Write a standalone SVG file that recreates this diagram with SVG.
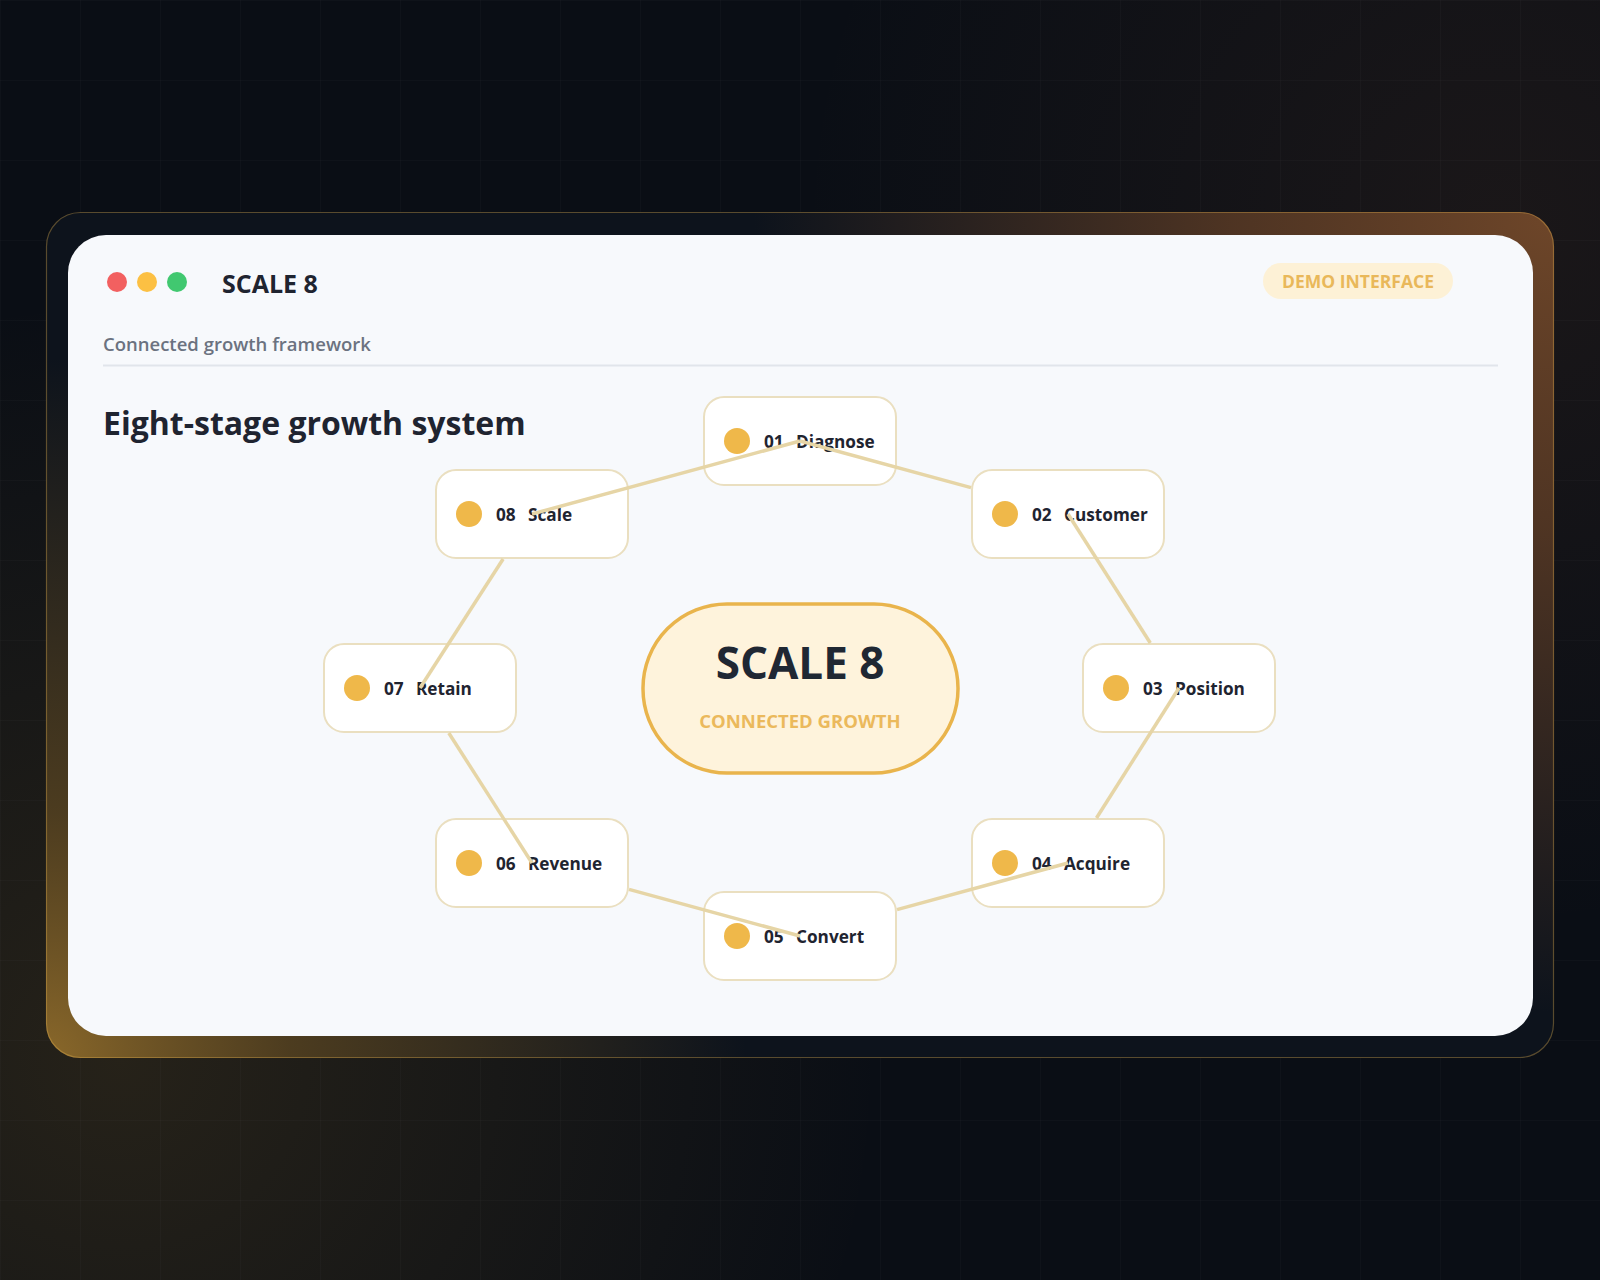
<svg xmlns="http://www.w3.org/2000/svg" width="1600" height="1280" viewBox="0 0 1600 1280">
  <defs>
    <pattern id="grid" width="80" height="80" patternUnits="userSpaceOnUse">
      <path d="M80 0 L0 0 L0 80" fill="none" stroke="#ffffff" stroke-opacity="0.035" stroke-width="1"/>
    </pattern>
    <radialGradient id="bgGlowBL" cx="120" cy="1060" r="760" gradientUnits="userSpaceOnUse">
      <stop offset="0" stop-color="#b88a2e" stop-opacity="0.16"/>
      <stop offset="1" stop-color="#b88a2e" stop-opacity="0"/>
    </radialGradient>
    <radialGradient id="bgGlowTR" cx="1500" cy="230" r="700" gradientUnits="userSpaceOnUse">
      <stop offset="0" stop-color="#b0683a" stop-opacity="0.10"/>
      <stop offset="1" stop-color="#b0683a" stop-opacity="0"/>
    </radialGradient>
    <radialGradient id="frameBL" cx="46" cy="1058" r="700" gradientUnits="userSpaceOnUse">
      <stop offset="0" stop-color="#8a682a"/>
      <stop offset="0.35" stop-color="#5c4620" stop-opacity="0.8"/>
      <stop offset="1" stop-color="#5c4620" stop-opacity="0"/>
    </radialGradient>
    <radialGradient id="frameTR" cx="1554" cy="212" r="800" gradientUnits="userSpaceOnUse">
      <stop offset="0" stop-color="#6e4629"/>
      <stop offset="0.4" stop-color="#5a3a24" stop-opacity="0.85"/>
      <stop offset="1" stop-color="#5a3a24" stop-opacity="0"/>
    </radialGradient>
    <style>
      .ui { font-family: "Open Sans", "Noto Sans", sans-serif; }
      .box { fill: #ffffff; stroke: #eadfc0; stroke-width: 2; }
      .dot { fill: #efb84a; }
      .lbl { font-family: "Open Sans", "Noto Sans", sans-serif; font-size: 17.2px; font-weight: 700; fill: #1f2430; }
      .conn { stroke: #e6d5a6; stroke-width: 3.5; fill: none; stroke-linecap: butt; }
    </style>
  </defs>

  <!-- page background -->
  <rect width="1600" height="1280" fill="#0a0e15"/>
  <rect width="1600" height="1280" fill="url(#bgGlowBL)"/>
  <rect width="1600" height="1280" fill="url(#bgGlowTR)"/>
  <rect width="1600" height="1280" fill="url(#grid)"/>

  <!-- outer frame -->
  <g id="frame">
    <rect x="46" y="212" width="1508" height="846" rx="34" fill="#0d131c"/>
    <rect x="46" y="212" width="1508" height="846" rx="34" fill="url(#frameBL)"/>
    <rect x="46" y="212" width="1508" height="846" rx="34" fill="url(#frameTR)"/>
    <rect x="46.5" y="212.5" width="1507" height="845" rx="34" fill="none" stroke="#e8b44f" stroke-opacity="0.35" stroke-width="1.2"/>
  </g>

  <!-- inner card -->
  <g id="card">
    <rect x="68" y="235" width="1465" height="801" rx="38" fill="#f7f9fc"/>
  </g>

  <!-- header -->
  <g id="header">
    <circle cx="117" cy="282" r="10" fill="#f26060"/>
    <circle cx="147" cy="282" r="10" fill="#fcc043"/>
    <circle cx="177" cy="282" r="10" fill="#41c870"/>
    <text class="ui" x="222" y="293" font-size="25" font-weight="700" fill="#1f2430">SCALE 8</text>
    <g id="demo-badge">
      <rect x="1263" y="263" width="190" height="36" rx="18" fill="#fdf1d6"/>
      <text class="ui" x="1358" y="288" font-size="17.5" font-weight="700" fill="#e9b85a" text-anchor="middle">DEMO INTERFACE</text>
    </g>
    <text class="ui" x="103" y="351" font-size="18.5" font-weight="600" fill="#6b7280">Connected growth framework</text>
    <line x1="103" y1="365.5" x2="1498" y2="365.5" stroke="#e1e5eb" stroke-width="2"/>
    <text class="ui" x="103" y="435" font-size="32" font-weight="700" fill="#1f2430">Eight-stage growth system</text>
  </g>

  <!-- center hub -->
  <g id="hub">
    <rect x="643" y="604" width="315" height="169" rx="84" fill="#fef3dc" stroke="#e9b44c" stroke-width="3.5"/>
    <text class="ui" x="800" y="679" font-size="44" font-weight="700" fill="#1f2733" text-anchor="middle">SCALE 8</text>
    <text class="ui" x="800" y="728" font-size="18.5" font-weight="700" fill="#ebb95c" text-anchor="middle">CONNECTED GROWTH</text>
  </g>

  <!-- nodes -->
  <g id="node-01">
    <rect class="box" x="704" y="397" width="192" height="88" rx="20"/>
    <circle class="dot" cx="737" cy="441" r="13"/>
    <text class="lbl" x="764" y="448">01</text>
    <text class="lbl" x="796" y="448">Diagnose</text>
  </g>
  <g id="node-02">
    <rect class="box" x="972" y="470" width="192" height="88" rx="20"/>
    <circle class="dot" cx="1005" cy="514" r="13"/>
    <text class="lbl" x="1032" y="521">02</text>
    <text class="lbl" x="1064" y="521">Customer</text>
  </g>
  <g id="node-03">
    <rect class="box" x="1083" y="644" width="192" height="88" rx="20"/>
    <circle class="dot" cx="1116" cy="688" r="13"/>
    <text class="lbl" x="1143" y="695">03</text>
    <text class="lbl" x="1175" y="695">Position</text>
  </g>
  <g id="node-04">
    <rect class="box" x="972" y="819" width="192" height="88" rx="20"/>
    <circle class="dot" cx="1005" cy="863" r="13"/>
    <text class="lbl" x="1032" y="870">04</text>
    <text class="lbl" x="1064" y="870">Acquire</text>
  </g>
  <g id="node-05">
    <rect class="box" x="704" y="892" width="192" height="88" rx="20"/>
    <circle class="dot" cx="737" cy="936" r="13"/>
    <text class="lbl" x="764" y="943">05</text>
    <text class="lbl" x="796" y="943">Convert</text>
  </g>
  <g id="node-06">
    <rect class="box" x="436" y="819" width="192" height="88" rx="20"/>
    <circle class="dot" cx="469" cy="863" r="13"/>
    <text class="lbl" x="496" y="870">06</text>
    <text class="lbl" x="528" y="870">Revenue</text>
  </g>
  <g id="node-07">
    <rect class="box" x="324" y="644" width="192" height="88" rx="20"/>
    <circle class="dot" cx="357" cy="688" r="13"/>
    <text class="lbl" x="384" y="695">07</text>
    <text class="lbl" x="416" y="695">Retain</text>
  </g>
  <g id="node-08">
    <rect class="box" x="436" y="470" width="192" height="88" rx="20"/>
    <circle class="dot" cx="469" cy="514" r="13"/>
    <text class="lbl" x="496" y="521">08</text>
    <text class="lbl" x="528" y="521">Scale</text>
  </g>

  <!-- connectors: each runs from a node centre to the edge of the next node -->
  <g id="connectors">
    <line class="conn" x1="800" y1="441" x2="971" y2="487.6"/>
    <line class="conn" x1="1068" y1="514" x2="1150.3" y2="643"/>
    <line class="conn" x1="1179" y1="688" x2="1096.5" y2="818"/>
    <line class="conn" x1="1068" y1="863" x2="897" y2="909.6"/>
    <line class="conn" x1="800" y1="936" x2="629" y2="889.4"/>
    <line class="conn" x1="532" y1="863" x2="448.8" y2="733"/>
    <line class="conn" x1="420" y1="688" x2="503.1" y2="559"/>
    <line class="conn" x1="532" y1="514" x2="800" y2="441"/>
  </g>
</svg>
